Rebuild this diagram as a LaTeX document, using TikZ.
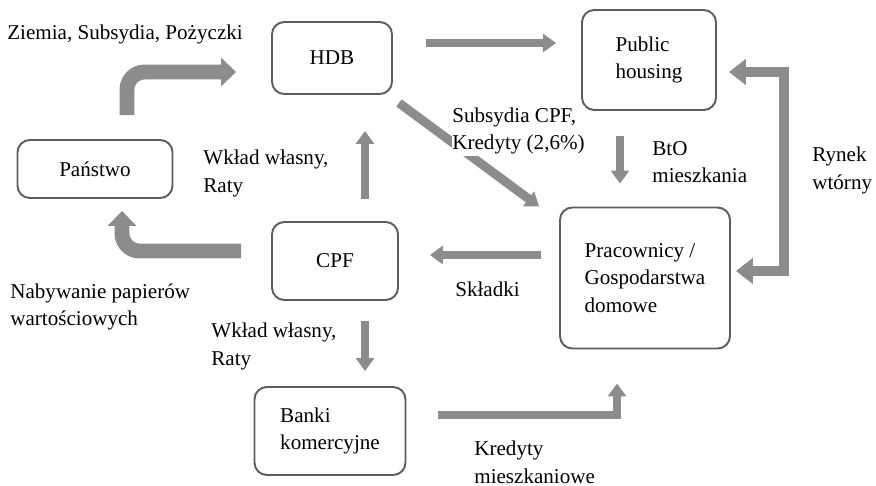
\documentclass[tikz,border=0pt]{standalone}
\usepackage{fontspec}
\setmainfont{Liberation Serif}
\usetikzlibrary{arrows.meta, calc}
\definecolor{flowgrey}{HTML}{8C8C8C}
\definecolor{boxgrey}{HTML}{5E5E5E}

\begin{document}
\begin{tikzpicture}[x=0.02cm, y=-0.02cm, font=\rmfamily\fontsize{12}{15.5}\selectfont,
        box/.style={draw=boxgrey, line width=1.1pt, rounded corners=7pt, align=left},
        flow/.style={draw=flowgrey, line width=5.1pt, -{Triangle[length=7.4pt,width=10.2pt]}},
        bigflow/.style={draw=flowgrey, line width=8.5pt, rounded corners=10pt, -{Triangle[length=8.5pt,width=15.9pt]}},
        dflow/.style={draw=flowgrey, line width=6.2pt, {Triangle[length=9.6pt,width=14.2pt]}-{Triangle[length=9.6pt,width=14.2pt]}},
        lbl/.style={inner sep=0pt, anchor=north west, align=left}]

        \useasboundingbox (0,0) rectangle (876,486);

        % boxes
        \node at (332,58) [box,minimum width=2.4cm,minimum height=1.44cm] (HDB) {HDB};
        \node at (649,60) [box,minimum width=2.68cm,minimum height=2cm] (PH) {Public\\housing};
        \node at (95,169) [box,minimum width=3.1cm,minimum height=1.16cm] (PA) {Państwo};
        \node at (335,261) [box,minimum width=2.52cm,minimum height=1.56cm] (CPF) {CPF};
        \node at (645,278) [box,minimum width=3.4cm,minimum height=2.82cm] (PG) {Pracownicy /\\Gospodarstwa\\domowe};
        \node at (330,431) [box,minimum width=3.02cm,minimum height=1.76cm] (BK) {Banki\\komercyjne};

        % flows
        \draw[bigflow] ($(PA.north)+(32,-24)$) |- ($(HDB.west)+(-35,14)$);
        \draw[flow] ($(HDB.east)+(33,-15)$) -- ($(PH.west)+(-25,-17)$);
        \draw[flow] ($(HDB.south east)+(6,8)$) -- ($(PG.north west)+(-20,0)$);
        \draw[flow] ($(PH.south)+(-29,25)$) -- ($(PG.north)+(-25,-23)$);
        \draw[dflow] ($(PG.east)+(5,-7)$) -- ++(48,0) |- ($(PH.east)+(12,12)$);
        \draw[flow] ($(PG.west)+(-18,-23)$) -- ($(CPF.east)+(31,-6)$);
        \draw[flow] ($(CPF.north)+(30,-22)$) -- ($(HDB.south)+(33,36)$);
        \draw[bigflow] ($(CPF.west)+(-30,-10)$) -| ($(PA.south)+(27,12)$);
        \draw[flow] ($(CPF.south)+(30,20)$) -- ($(BK.north)+(35,-15)$);
        \draw[flow] ($(BK.east)+(32,-16)$) -| ($(PG.south)+(-28,34)$);

        % labels
        \node at (7,25) [lbl] (ZSP) {Ziemia, Subsydia, Pożyczki};
        \node at (203,150) [lbl] (WR1) {Wkład własny,\\Raty};
        \node at (452,106) [lbl, fill=white, inner xsep=0pt, inner ysep=1pt] (SK) {Subsydia CPF,\\Kredyty (2,6\%)};
        \node at (652,141) [lbl] (BTO) {BtO\\mieszkania};
        \node at (812,147) [lbl] (RW) {Rynek\\wtórny};
        \node at (10,283) [lbl] (NPW) {Nabywanie papierów\\wartościowych};
        \node at (211,323) [lbl] (WR2) {Wkład własny,\\Raty};
        \node at (455,282) [lbl] (SKL) {Składki};
        \node at (474,441) [lbl] (KM) {Kredyty\\mieszkaniowe};

\end{tikzpicture}
\end{document}
